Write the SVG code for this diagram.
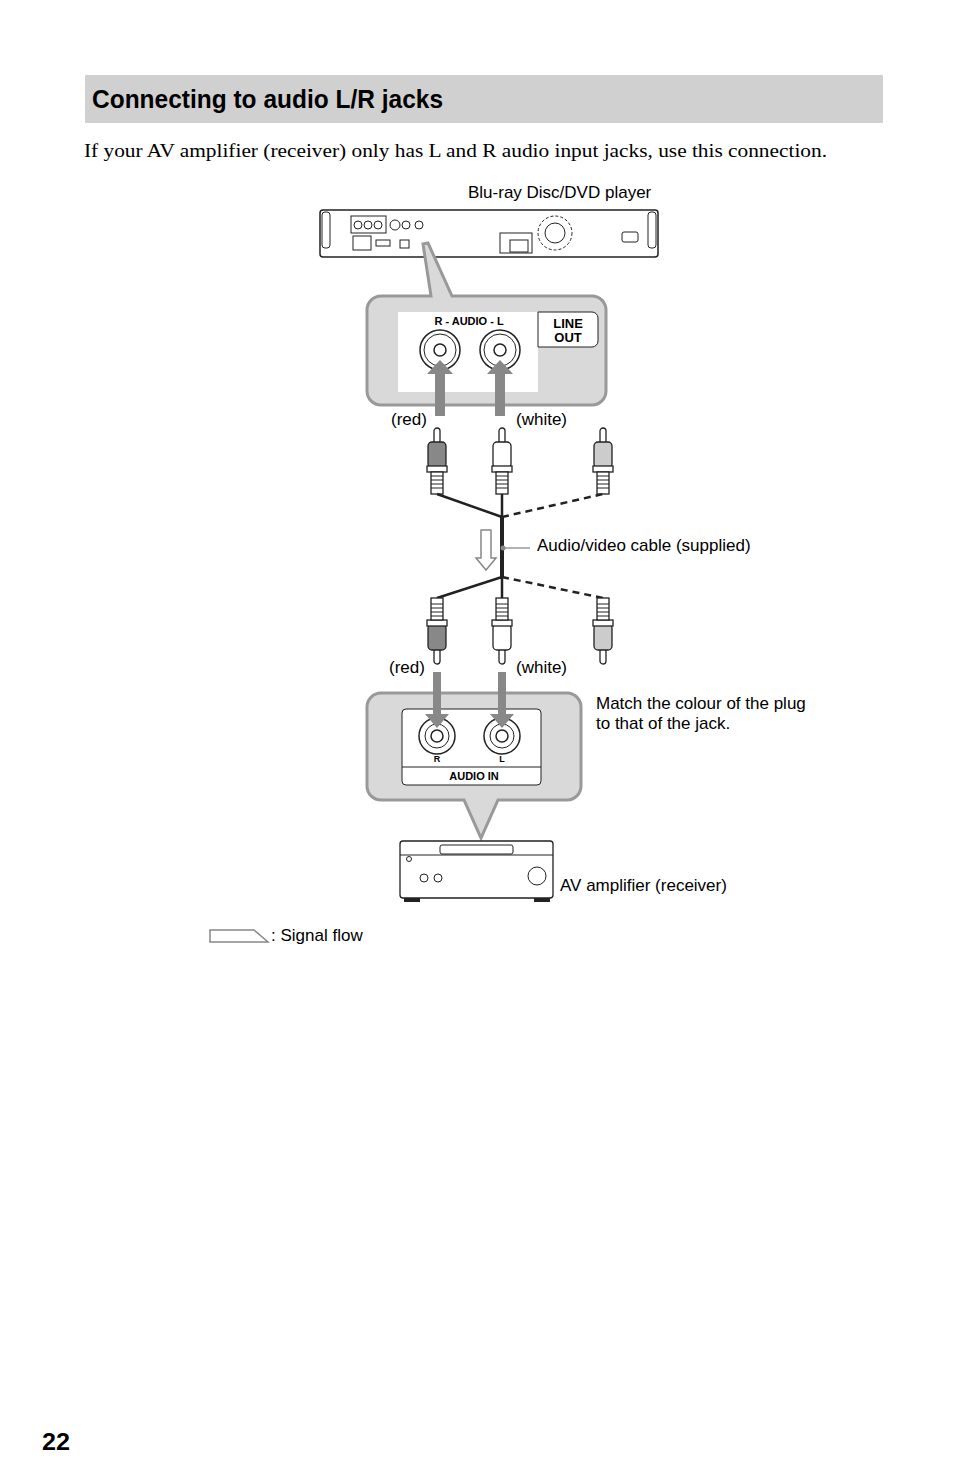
<svg xmlns="http://www.w3.org/2000/svg" width="954" height="1483" viewBox="0 0 954 1483">
<style>
.t{font-family:"Liberation Sans",Arial,sans-serif;font-size:17px;fill:#000}
.c{fill:#d9d9d9;stroke:#999;stroke-width:3}
.ln{fill:none;stroke:#222;stroke-width:2.5}
.b{font-family:"Liberation Sans",Arial,sans-serif;font-weight:bold;fill:#000}
.arr{fill:#888;stroke:none}
</style>
<defs>
<g id="plug">
<rect x="-3" y="0" width="6" height="16" rx="3" fill="#fff" stroke="#222" stroke-width="1.3"/>
<rect x="-9" y="14" width="18" height="26" rx="4" stroke="#222" stroke-width="1.3"/>
<rect x="-10" y="38" width="20" height="6" fill="#fff" stroke="#222" stroke-width="1.3"/>
<rect x="-6" y="44" width="12" height="22" fill="#fff" stroke="#222" stroke-width="1.3"/>
<path d="M-6 48h12M-6 52h12M-6 56h12M-6 60h12" stroke="#222" stroke-width="1"/>
</g>
</defs>
<rect x="85" y="75" width="798" height="48" fill="#d0d0d0"/>
<text x="92" y="108" class="b" font-size="26" textLength="351" lengthAdjust="spacingAndGlyphs">Connecting to audio L/R jacks</text>
<text x="84" y="157" font-family="Liberation Serif,serif" font-size="19" textLength="743" lengthAdjust="spacingAndGlyphs">If your AV amplifier (receiver) only has L and R audio input jacks, use this connection.</text>
<text x="468" y="198" class="t">Blu-ray Disc/DVD player</text>
<g id="player">
<rect x="320" y="210" width="338" height="47" rx="3" fill="#fff" stroke="#222" stroke-width="1.5"/>
<rect x="322" y="212" width="8" height="36" rx="3" fill="none" stroke="#222"/>
<rect x="648" y="212" width="8" height="36" rx="3" fill="none" stroke="#222"/>
<rect x="351" y="216" width="35" height="17" fill="none" stroke="#222"/>
<circle cx="358" cy="225" r="4" fill="none" stroke="#222"/><circle cx="368" cy="225" r="4" fill="none" stroke="#222"/><circle cx="378" cy="225" r="4" fill="none" stroke="#222"/>
<rect x="353" y="236" width="18" height="14" fill="none" stroke="#222"/>
<rect x="376" y="240" width="14" height="6" fill="none" stroke="#222"/>
<circle cx="395" cy="225" r="5" fill="none" stroke="#222"/>
<circle cx="406" cy="225" r="4" fill="none" stroke="#222"/><circle cx="419" cy="225" r="4" fill="none" stroke="#222"/>
<rect x="400" y="240" width="9" height="8" fill="none" stroke="#222"/>
<rect x="500" y="233" width="32" height="20" fill="none" stroke="#222"/>
<rect x="510" y="240" width="18" height="12" fill="none" stroke="#222"/>
<circle cx="555" cy="233" r="17" fill="none" stroke="#222" stroke-dasharray="3 2"/>
<circle cx="555" cy="233" r="10" fill="none" stroke="#222"/>
<rect x="622" y="232" width="16" height="10" rx="2" fill="none" stroke="#222"/>
</g>
<g id="callout-top">
<path class="c" d="M367 310a14 14 0 0 1 14-14h50l-8-52 5-1 24 53h140a14 14 0 0 1 14 14v81a14 14 0 0 1-14 14H381a14 14 0 0 1-14-14z"/>
<rect x="398" y="312" width="140" height="80" fill="#fff"/>
<path d="M538 312h54a6 6 0 0 1 6 6v23a6 6 0 0 1-6 6h-54z" fill="#fff" stroke="#222"/>
<text x="469" y="325" class="b" font-size="11" text-anchor="middle">R - AUDIO - L</text>
<text x="568" y="328" class="b" font-size="13" text-anchor="middle">LINE</text>
<text x="568" y="342" class="b" font-size="13" text-anchor="middle">OUT</text>
<circle cx="440" cy="350" r="20" fill="#fff" stroke="#222" stroke-width="1.5"/><circle cx="440" cy="350" r="16" fill="none" stroke="#222"/><circle cx="440" cy="350" r="6" fill="#fff" stroke="#222" stroke-width="1.5"/>
<circle cx="500" cy="350" r="20" fill="#fff" stroke="#222" stroke-width="1.5"/><circle cx="500" cy="350" r="16" fill="none" stroke="#222"/><circle cx="500" cy="350" r="6" fill="#fff" stroke="#222" stroke-width="1.5"/>
<path class="arr" d="M435 416v-42h-8l13-14 13 14h-8v42zM495 416v-42h-8l13-14 13 14h-8v42z"/>
</g>
<text x="391" y="425" class="t">(red)</text>
<text x="516" y="425" class="t">(white)</text>
<g id="plugs-top">
<use href="#plug" x="437" y="428" fill="#888"/>
<use href="#plug" x="502" y="428" fill="#fff"/>
<use href="#plug" x="603" y="428" fill="#ccc"/>
</g>
<g id="connectors">
<path class="ln" d="M437 494L502 517M502 494V517M502 577L437 598M502 577V598"/>
<path d="M502 517V577" stroke="#222" stroke-width="4"/>
<path class="ln" d="M502 517L603 494M502 577L603 598" stroke-dasharray="7 5"/>
<path d="M481 530h10v28h5l-10 12-10-12h5z" fill="#fff" stroke="#888" stroke-width="1.5"/>
<path d="M502 548H530" stroke="#888" stroke-width="1.3"/>
<circle cx="503" cy="548" r="2.5" fill="#888"/>
</g>
<text x="537" y="551" class="t">Audio/video cable (supplied)</text>
<g id="plugs-bottom">
<use href="#plug" transform="translate(437 664) scale(1 -1)" fill="#888"/>
<use href="#plug" transform="translate(502 664) scale(1 -1)" fill="#fff"/>
<use href="#plug" transform="translate(603 664) scale(1 -1)" fill="#ccc"/>
</g>
<text x="389" y="673" class="t">(red)</text>
<text x="516" y="673" class="t">(white)</text>
<text x="596" y="709" class="t">Match the colour of the plug</text>
<text x="596" y="729" class="t">to that of the jack.</text>
<g id="callout-bottom">
<path class="c" d="M367 707a14 14 0 0 1 14-14h186a14 14 0 0 1 14 14v79a14 14 0 0 1-14 14H498l-17 38-17-38H381a14 14 0 0 1-14-14z"/>
<rect x="402" y="709" width="139" height="76" rx="4" fill="#fff" stroke="#222"/>
<path d="M402 767h139" stroke="#222"/>
<text x="474" y="780" class="b" font-size="11" text-anchor="middle">AUDIO IN</text>
<text x="437" y="762" class="b" font-size="9" text-anchor="middle">R</text>
<text x="502" y="762" class="b" font-size="9" text-anchor="middle">L</text>
<circle cx="437" cy="736" r="18" fill="#fff" stroke="#222" stroke-width="1.5"/><circle cx="437" cy="736" r="12" fill="none" stroke="#222"/><circle cx="437" cy="736" r="6" fill="#fff" stroke="#222" stroke-width="1.5"/>
<circle cx="502" cy="736" r="18" fill="#fff" stroke="#222" stroke-width="1.5"/><circle cx="502" cy="736" r="12" fill="none" stroke="#222"/><circle cx="502" cy="736" r="6" fill="#fff" stroke="#222" stroke-width="1.5"/>
<path class="arr" d="M433 672v42h-8l12 14 12-14h-8v-42zM498 672v42h-8l12 14 12-14h-8v-42z"/>
</g>
<g id="receiver">
<rect x="400" y="841" width="153" height="57" rx="3" fill="#fff" stroke="#222" stroke-width="1.3"/>
<path d="M400 855h153" stroke="#222"/>
<rect x="440" y="845" width="73" height="9" rx="2" fill="#fff" stroke="#222"/>
<circle cx="409" cy="859" r="2.5" fill="none" stroke="#222"/>
<circle cx="424" cy="878" r="4" fill="none" stroke="#222"/><circle cx="438" cy="878" r="4" fill="none" stroke="#222"/>
<circle cx="537" cy="876" r="9" fill="none" stroke="#222"/>
<rect x="404" y="898" width="16" height="4" fill="#222"/><rect x="534" y="898" width="16" height="4" fill="#222"/>
</g>
<text x="560" y="891" class="t">AV amplifier (receiver)</text>
<path d="M210 930h44l14 12h-58z" fill="#fff" stroke="#888" stroke-width="1.5"/>
<text x="271" y="941" class="t">: Signal flow</text>
<text x="42" y="1450" class="b" font-size="24" textLength="28" lengthAdjust="spacingAndGlyphs">22</text>
</svg>
